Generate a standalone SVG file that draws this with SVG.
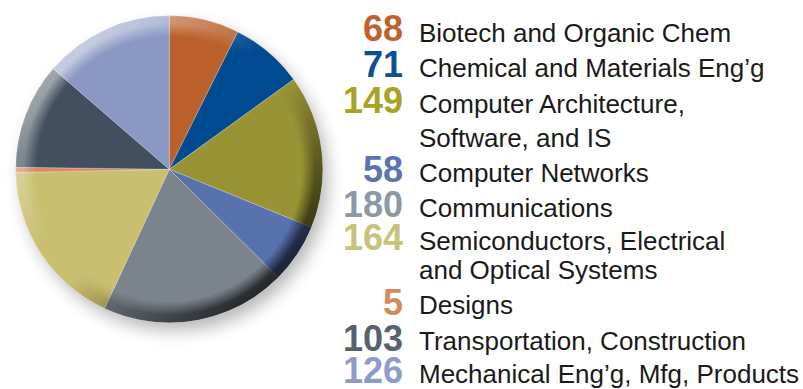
<svg xmlns="http://www.w3.org/2000/svg" width="803" height="389" viewBox="0 0 803 389">
  <style>
    .num { font-family: "Liberation Sans", Arial, sans-serif; font-weight: bold; font-size: 36px; text-anchor: end; }
    .lbl { font-family: "Liberation Sans", Arial, sans-serif; font-size: 26px; fill: #1a1a1a; }
    .slice { stroke: #ffffff; stroke-opacity: 0.45; stroke-width: 0.6; }
  </style>
  <defs>
    <filter id="blur" x="-30%" y="-30%" width="160%" height="160%">
      <feGaussianBlur stdDeviation="9"/>
    </filter>
    <radialGradient id="rimMaskGrad" cx="169.3" cy="169.3" r="153.5" gradientUnits="userSpaceOnUse">
      <stop offset="0.86" stop-color="#000"/>
      <stop offset="0.95" stop-color="#fff"/>
      <stop offset="1" stop-color="#fff"/>
    </radialGradient>
    <mask id="rimMask">
      <circle cx="169.3" cy="169.3" r="153.5" fill="url(#rimMaskGrad)"/>
    </mask>
    <linearGradient id="rimShade" x1="0.12" y1="0.08" x2="0.88" y2="0.92">
      <stop offset="0" stop-color="#ffffff" stop-opacity="0.6"/>
      <stop offset="0.42" stop-color="#ffffff" stop-opacity="0"/>
      <stop offset="0.55" stop-color="#000000" stop-opacity="0"/>
      <stop offset="1" stop-color="#000000" stop-opacity="0.8"/>
    </linearGradient>
  </defs>

  <rect width="803" height="389" fill="#ffffff"/>

  <g id="pie">
    <circle cx="175" cy="178" r="152" fill="#000" opacity="0.3" filter="url(#blur)"/>
    <g id="slices">
      <path id="s-biotech" class="slice" fill="#BA602A" d="M169.3,169.3 L169.3,15.8 A153.5,153.5 0 0 1 237.78,31.92 Z"/>
      <path id="s-chemical" class="slice" fill="#004A91" d="M169.3,169.3 L237.78,31.92 A153.5,153.5 0 0 1 293.73,79.41 Z"/>
      <path id="s-comparch" class="slice" fill="#999336" d="M169.3,169.3 L293.73,79.41 A153.5,153.5 0 0 1 311.41,227.32 Z"/>
      <path id="s-networks" class="slice" fill="#5872AE" d="M169.3,169.3 L311.41,227.32 A153.5,153.5 0 0 1 278.19,277.49 Z"/>
      <path id="s-comms" class="slice" fill="#7B848D" d="M169.3,169.3 L278.19,277.49 A153.5,153.5 0 0 1 104.57,308.48 Z"/>
      <path id="s-semi" class="slice" fill="#C9BF6F" d="M169.3,169.3 L104.57,308.48 A153.5,153.5 0 0 1 15.83,172.43 Z"/>
      <path id="s-designs" class="slice" fill="#D88A5E" d="M169.3,169.3 L15.83,172.43 A153.5,153.5 0 0 1 15.81,167.21 Z"/>
      <path id="s-transport" class="slice" fill="#414F5E" d="M169.3,169.3 L15.81,167.21 A153.5,153.5 0 0 1 53.25,68.83 Z"/>
      <path id="s-mech" class="slice" fill="#8A99C4" d="M169.3,169.3 L53.25,68.83 A153.5,153.5 0 0 1 169.3,15.8 Z"/>
    </g>
    <circle cx="169.3" cy="169.3" r="153.5" fill="url(#rimShade)" mask="url(#rimMask)"/>
  </g>

  <g id="legend">
    <g id="l-biotech">
      <text class="num" x="403" y="41" fill="#C0612B">68</text>
      <text class="lbl" x="419" y="42">Biotech and Organic Chem</text>
    </g>
    <g id="l-chemical">
      <text class="num" x="403" y="77" fill="#0B4F95">71</text>
      <text class="lbl" x="419" y="77">Chemical and Materials Eng’g</text>
    </g>
    <g id="l-comparch">
      <text class="num" x="403" y="113" fill="#A8A322">149</text>
      <text class="lbl" x="419" y="113">Computer Architecture,</text>
      <text class="lbl" x="419" y="147">Software, and IS</text>
    </g>
    <g id="l-networks">
      <text class="num" x="403" y="182" fill="#5A74B0">58</text>
      <text class="lbl" x="419" y="182">Computer Networks</text>
    </g>
    <g id="l-comms">
      <text class="num" x="403" y="217" fill="#8C99A4">180</text>
      <text class="lbl" x="419" y="217">Communications</text>
    </g>
    <g id="l-semi">
      <text class="num" x="403" y="250" fill="#C8C27A">164</text>
      <text class="lbl" x="419" y="250">Semiconductors, Electrical</text>
      <text class="lbl" x="419" y="279">and Optical Systems</text>
    </g>
    <g id="l-designs">
      <text class="num" x="403" y="315" fill="#D58A5A">5</text>
      <text class="lbl" x="419" y="314">Designs</text>
    </g>
    <g id="l-transport">
      <text class="num" x="403" y="351" fill="#56626E">103</text>
      <text class="lbl" x="419" y="350">Transportation, Construction</text>
    </g>
    <g id="l-mech">
      <text class="num" x="403" y="383" fill="#8E9BCB">126</text>
      <text class="lbl" x="419" y="383">Mechanical Eng’g, Mfg, Products</text>
    </g>
  </g>
</svg>
